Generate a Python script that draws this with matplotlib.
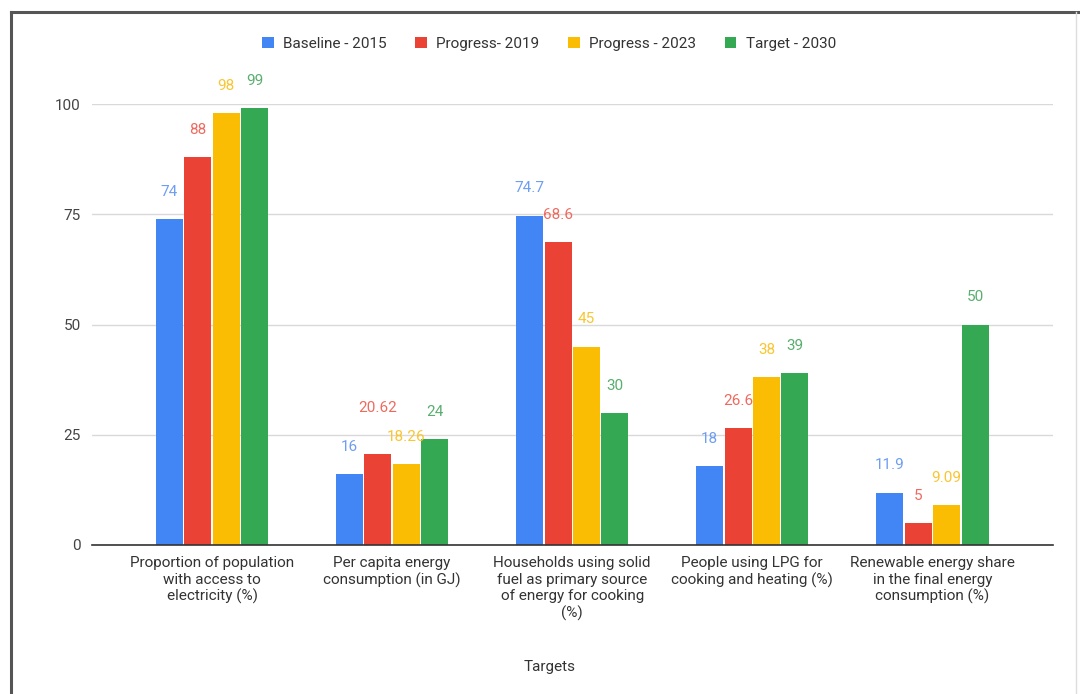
import numpy as np
from matplotlib import pyplot as plt
from matplotlib.lines import Line2D

plt.rcParams['font.family'] = ['Roboto', 'DejaVu Sans']

categories = ['Proportion of population\nwith access to\nelectricity (%)',
              'Per capita energy\nconsumption (in GJ)',
              'Households using solid\nfuel as primary source\nof energy for cooking\n(%)',
              'People using LPG for\ncooking and heating (%)',
              'Renewable energy share\nin the final energy\nconsumption (%)']
series = ['Baseline - 2015', 'Progress- 2019', 'Progress - 2023', 'Target - 2030']
baseline = [74, 16, 74.7, 18, 11.9]
progress19 = [88, 20.62, 68.6, 26.6, 5]
progress23 = [98, 18.26, 45, 38, 9.09]
target = [99, 24, 30, 39, 50]
labels = [['74', '16', '74.7', '18', '11.9'],
          ['88', '20.62', '68.6', '26.6', '5'],
          ['98', '18.26', '45', '38', '9.09'],
          ['99', '24', '30', '39', '50']]

colors = ['#4285F4', '#EA4335', '#FBBC04', '#34A853']
label_colors = ['#6e9ef2', '#ee6a5f', '#f9c531', '#5aae6f']

fig = plt.figure(figsize=(10.8, 6.94), dpi=100)
ax = fig.add_axes([92/1080, 1-545/694, (1053-92)/1080, (545-104)/694])

x = np.arange(len(categories))
w = 0.15
step = 0.158
data = [baseline, progress19, progress23, target]
for i, vals in enumerate(data):
    pos = x + (i - 1.5) * step
    ax.bar(pos, vals, width=w, color=colors[i], label=series[i], zorder=3)
    for j, v in enumerate(vals):
        off = 19.5
        if labels[i][j] == '20.62':
            off = 33
        ax.annotate(labels[i][j], (pos[j], v), xytext=(0, off), textcoords='offset points',
                    ha='center', va='center', color=label_colors[i], fontsize=11,
                    annotation_clip=False, zorder=4)

ax.set_xlim(-0.667, 4.67)
ax.set_ylim(0, 100)
ax.set_yticks([0, 25, 50, 75, 100])
ax.yaxis.grid(True, color='#d9d9d9', linewidth=1, zorder=0)
ax.set_xticks(x)
ax.set_xticklabels(categories, fontsize=11, color='#333333', linespacing=1.22)
ax.tick_params(axis='both', length=0, labelsize=11, colors='#444444')
ax.tick_params(axis='x', pad=8, colors='#333333')
ax.tick_params(axis='y', pad=8)
for s in ['top', 'right', 'left']:
    ax.spines[s].set_visible(False)
ax.spines['bottom'].set_color('#333333')
ax.spines['bottom'].set_linewidth(1.2)
ax.spines['bottom'].set_zorder(5)

fig.text(550/1080, 1-667/694, 'Targets', ha='center', va='center', fontsize=11, color='#333333')

fig.legend(loc='center', bbox_to_anchor=(549/1080, 1-44/694), ncol=4, frameon=False,
           fontsize=11, handlelength=0.75, handleheight=0.75, handletextpad=0.6,
           columnspacing=1.9, labelcolor='#333333')

# frame around the image
fig.add_artist(Line2D([11/1080, 11/1080], [0, 1-12/694], color='#555555', linewidth=2.2, transform=fig.transFigure))
fig.add_artist(Line2D([11/1080, 1], [1-12/694, 1-12/694], color='#555555', linewidth=2.2, transform=fig.transFigure))
fig.add_artist(Line2D([1076/1080, 1076/1080], [0, 1-12/694], color='#dddddd', linewidth=1, transform=fig.transFigure))

plt.savefig('out.png', dpi=100)
